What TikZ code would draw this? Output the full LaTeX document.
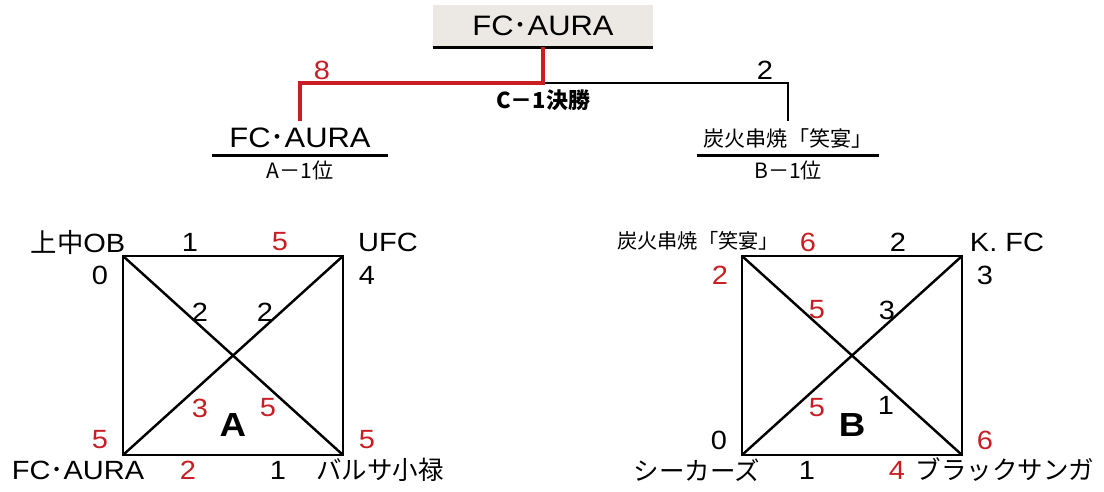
\documentclass[tikz,border=0pt]{standalone}
\usepackage{fontspec}
\setmainfont[FakeStretch=1.1]{Liberation Sans}
\newfontfamily\jp{Noto Sans CJK JP}
\usepackage{xcolor}
\usetikzlibrary{positioning}
\definecolor{scorered}{RGB}{200,30,35}
\definecolor{boxgray}{RGB}{236,233,229}

\begin{document}
\begin{tikzpicture}[x = 0.02cm, y = -0.02cm,
    team/.style = {font=\fontsize{15}{18}\selectfont},
    jteam/.style = {font=\jp\fontsize{14.5}{17}\selectfont},
    small/.style = {font=\jp\fontsize{12}{14}\selectfont},
    score/.style = {font=\fontsize{15}{18}\selectfont},
    win/.style = {score, text=scorered},
    group/.style = {font=\bfseries\fontsize{19}{22}\selectfont},
    line/.style = {line width=1.4pt},
    redline/.style = {line width=2.3pt, draw=scorered}]
    \useasboundingbox (0,0) rectangle (1104,491);
    % final
    \node[fill=boxgray, minimum width=4.4cm, minimum height=0.84cm, font=\fontsize{16}{19}\selectfont] (champ) at (543,26) {FC{\jp ･}AURA};
    \draw[line width=1.7pt] (champ.south west) -- (champ.south east);
    \coordinate (fork) at (543,83);
    \node[font=\fontsize{16}{19}\selectfont, minimum width=3.52cm, minimum height=0.68cm] (fca) at (300,138) {FC{\jp ･}AURA};
    \draw[line] (fca.south west) -- (fca.south east);
    \node[small] (fcarank) at (300,170) {A－1位};
    \node[small, minimum width=3.54cm, minimum height=0.68cm] (sumi) at (788,138) {炭火串焼「笑宴」};
    \draw[line] (sumi.south west) -- (sumi.south east);
    \node[small] (sumirank) at (788,170) {B－1位};
    \draw[line] (fork) -| (sumi.north);
    \draw[redline] (champ.south) -- (fork) -| (fca.north);
    \node[win] (finala) at (322,70) {8};
    \node[score] (finalb) at (765,70) {2};
    \node[font=\jp\bfseries\fontsize{12.5}{14}\selectfont] (final) at (543,100) {C－1決勝};

    % leagues
    \foreach \g/\x in {a/123, b/742}{
        \coordinate (\g tl) at (\x,256);
        \coordinate (\g tr) at (\x+220,256);
        \coordinate (\g bl) at (\x,455);
        \coordinate (\g br) at (\x+220,455);
        \draw[line] (\g tl) -- (\g tr) -- (\g br) -- (\g bl) -- cycle;
        \draw[line] (\g tl) -- (\g br);
        \draw[line] (\g bl) -- (\g tr);
    }

    % group A
    \node[team] (jochu) at (78,242) {{\jp 上中}OB};
    \node[team] (ufc) at (388,242) {UFC};
    \node[team] (aura) at (78,470) {FC{\jp ･}AURA};
    \node[jteam] (barusa) at (380,470) {バルサ小禄};
    \node[group] (grpa) at (233,425) {A};
    \node[score] (a1) at (190,242) {1};
    \node[win] (a2) at (280,242) {5};
    \node[score] (a3) at (100,275) {0};
    \node[score] (a4) at (367,275) {4};
    \node[score] (a5) at (200,312) {2};
    \node[score] (a6) at (265,312) {2};
    \node[win] (a7) at (200,408) {3};
    \node[win] (a8) at (268,408) {5};
    \node[win] (a9) at (100,440) {5};
    \node[win] (a10) at (367,440) {5};
    \node[win] (a11) at (188,470) {2};
    \node[score] (a12) at (278,470) {1};

    % group B
    \node[font=\jp\fontsize{11.5}{14}\selectfont] (sumib) at (698,241) {炭火串焼「笑宴」};
    \node[team] (kfc) at (1007,242) {K. FC};
    \node[jteam] (seekers) at (697,470) {シーカーズ};
    \node[jteam] (sanga) at (1005,470) {ブラックサンガ};
    \node[group] (grpb) at (852,425) {B};
    \node[win] (b1) at (808,242) {6};
    \node[score] (b2) at (898,242) {2};
    \node[win] (b3) at (720,275) {2};
    \node[score] (b4) at (985,275) {3};
    \node[win] (b5) at (817,310) {5};
    \node[score] (b6) at (887,310) {3};
    \node[win] (b7) at (817,408) {5};
    \node[score] (b8) at (886,405) {1};
    \node[score] (b9) at (719,440) {0};
    \node[win] (b10) at (985,440) {6};
    \node[score] (b11) at (807,470) {1};
    \node[win] (b12) at (897,470) {4};
\end{tikzpicture}
\end{document}
